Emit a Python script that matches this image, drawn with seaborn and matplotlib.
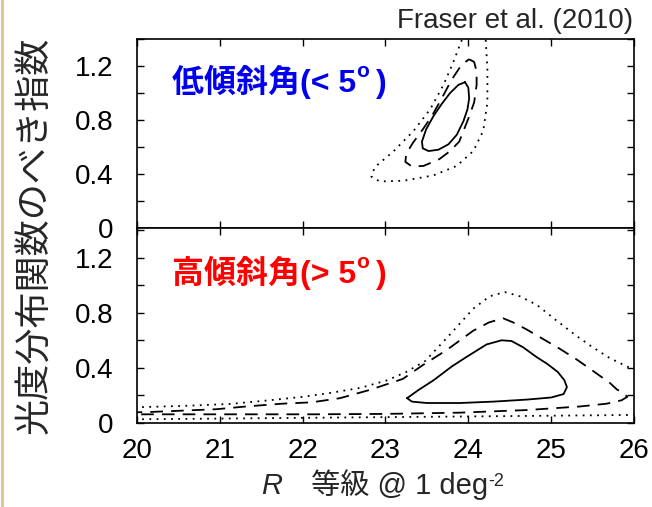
import numpy as np
import pandas as pd
import matplotlib
matplotlib.use("Agg")
import matplotlib.pyplot as plt
from matplotlib.ticker import MultipleLocator, FuncFormatter
import seaborn as sns

# ------------------------------
# Data (contours: R magnitude vs. power-law index)
# ------------------------------
LEVELS = ["1sigma", "2sigma", "3sigma"]

# low inclination (< 5 deg)
LOW_1S_R = [23.96, 24.00, 24.01, 23.99, 23.94, 23.86, 23.76, 23.64, 23.52, 23.45, 23.44, 23.49, 23.58, 23.68, 23.78, 23.88, 23.96]
LOW_1S_A = [1.08, 1.04, 0.96, 0.88, 0.79, 0.69, 0.62, 0.58, 0.57, 0.59, 0.64, 0.73, 0.83, 0.92, 1.00, 1.06, 1.08]
LOW_2S_R = [24.01, 24.07, 24.10, 24.10, 24.07, 24.00, 23.89, 23.78, 23.65, 23.46, 23.32, 23.24, 23.25, 23.33, 23.45, 23.56, 23.67, 23.80, 23.92, 24.01]
LOW_2S_A = [1.25, 1.23, 1.16, 1.06, 0.93, 0.81, 0.64, 0.57, 0.51, 0.46, 0.455, 0.49, 0.55, 0.63, 0.73, 0.83, 0.95, 1.10, 1.21, 1.25]
LOW_3S_R = [24.20, 24.21, 24.23, 24.23, 24.18, 24.06, 23.86, 23.58, 23.22, 22.93, 22.83, 22.87, 23.10, 23.34, 23.54, 23.70, 23.82, 23.90, 23.96, 24.08, 24.20]
LOW_3S_A = [1.50, 1.39, 1.18, 0.93, 0.72, 0.57, 0.46, 0.39, 0.35, 0.345, 0.38, 0.45, 0.57, 0.72, 0.88, 1.06, 1.23, 1.36, 1.45, 1.52, 1.50]

# high inclination (> 5 deg)
HIGH_1S_R = [23.26, 23.40, 23.58, 23.80, 23.98, 24.22, 24.40, 24.52, 24.66, 24.82, 24.95, 25.08, 25.16, 25.19, 25.15, 25.00, 24.71, 24.30, 23.90, 23.50, 23.32, 23.26]
HIGH_1S_A = [0.18, 0.24, 0.31, 0.41, 0.48, 0.57, 0.60, 0.595, 0.55, 0.48, 0.43, 0.37, 0.31, 0.26, 0.21, 0.185, 0.17, 0.155, 0.145, 0.145, 0.155, 0.18]
HIGH_2S_R = [19.8, 20.12, 21.36, 22.13, 23.0, 23.9, 24.71, 25.35, 25.67, 25.85, 25.92, 25.86, 25.79, 25.71, 25.5, 25.31, 25.1, 24.9, 24.7, 24.54, 24.42,
             24.25, 24.06, 23.9, 23.74, 23.45, 23.21, 22.81, 22.45, 22.11, 21.75, 21.32, 20.96, 20.56, 20.16, 19.8, 19.8]
HIGH_2S_A = [0.062, 0.063, 0.063, 0.063, 0.066, 0.075, 0.094, 0.12, 0.14, 0.165, 0.19, 0.22, 0.245, 0.29, 0.38, 0.46, 0.54, 0.61, 0.68, 0.73, 0.76,
             0.73, 0.67, 0.60, 0.53, 0.42, 0.32, 0.24, 0.18, 0.15, 0.14, 0.12, 0.10, 0.09, 0.08, 0.075, 0.062]
HIGH_3S_R = [19.8, 20.0, 20.6, 21.12, 21.6, 22.0, 22.3, 22.7, 23.02, 23.25, 23.48, 23.76, 24.06, 24.26, 24.44, 24.62, 24.83, 25.05, 25.31, 25.5,
             25.71, 25.95, 26.2, 26.3, 26.2, 25.9, 24.5, 22.7, 21.0, 20.0, 19.8, 19.8]
HIGH_3S_A = [0.11, 0.114, 0.125, 0.138, 0.165, 0.19, 0.215, 0.255, 0.31, 0.37, 0.45, 0.63, 0.83, 0.92, 0.95, 0.92, 0.856, 0.75, 0.63, 0.55,
             0.47, 0.40, 0.36, 0.2, 0.06, 0.058, 0.05, 0.041, 0.032, 0.027, 0.026, 0.11]

X_TICKS = [20, 21, 22, 23, 24, 25, 26]
LOW_YLIM = (0, 1.40)
HIGH_YLIM = (0, 1.415)

LOW_LABEL = "低傾斜角(< 5"
HIGH_LABEL = "高傾斜角(> 5"
CREDIT = "Fraser et al. (2010)"
Y_LABEL = "光度分布関数のべき指数"

# ------------------------------
# Style
# ------------------------------
sns.set_theme(style="ticks")
plt.rcParams["font.family"] = ["Liberation Sans", "Noto Sans CJK JP", "DejaVu Sans"]
plt.rcParams["axes.linewidth"] = 1.2
plt.rcParams["axes.edgecolor"] = "black"

DASHES = {"1sigma": "", "2sigma": (7, 4.5), "3sigma": (1, 3)}


def contour_frame(rings):
    rows = []
    for level, rr, aa in rings:
        for i, (r, a) in enumerate(zip(rr, aa)):
            rows.append({"R": r, "alpha": a, "level": level, "order": i})
    return pd.DataFrame(rows)


def style_axis(ax, ylim):
    ax.set_xlim(X_TICKS[0], X_TICKS[-1])
    ax.set_ylim(*ylim)
    ax.set_xticks(X_TICKS)
    ax.yaxis.set_major_locator(MultipleLocator(0.4))
    ax.yaxis.set_minor_locator(MultipleLocator(0.2))
    ax.yaxis.set_major_formatter(FuncFormatter(lambda v, p: "0" if abs(v) < 1e-9 else f"{v:.1f}"))
    ax.tick_params(which="both", direction="in", top=True, right=True,
                   length=5, width=1, colors="black", labelsize=20)
    ax.tick_params(axis="y", pad=17)
    ax.tick_params(axis="x", pad=11)
    ax.set_xlabel("")
    ax.set_ylabel("")
    for s in ax.spines.values():
        s.set_visible(True)


def panel_label(ax, main, color):
    t = ax.text(0.07, 0.72, main, transform=ax.transAxes, color=color,
                fontsize=23, fontweight="bold", va="baseline")
    sup = ax.annotate("o", xy=(1, 0), xycoords=t, xytext=(0.5, 13),
                      textcoords="offset points", color=color, fontsize=15,
                      fontweight="bold", va="bottom", ha="left")
    ax.annotate(")", xy=(1, 0), xycoords=(sup, t), xytext=(5, 0),
                textcoords="offset points", color=color, fontsize=23,
                fontweight="bold", va="bottom", ha="left")


fig = plt.figure(figsize=(6.52, 5.07), dpi=100)
ax_low = fig.add_axes([0.2101, 0.5503, 0.7623, 0.3728])
ax_high = fig.add_axes([0.2101, 0.1657, 0.7623, 0.3846])

low_df = contour_frame([("1sigma", LOW_1S_R, LOW_1S_A),
                        ("2sigma", LOW_2S_R, LOW_2S_A),
                        ("3sigma", LOW_3S_R, LOW_3S_A)])
high_df = contour_frame([("1sigma", HIGH_1S_R, HIGH_1S_A),
                         ("2sigma", HIGH_2S_R, HIGH_2S_A),
                         ("3sigma", HIGH_3S_R, HIGH_3S_A)])

for ax, df, ylim in [(ax_low, low_df, LOW_YLIM), (ax_high, high_df, HIGH_YLIM)]:
    sns.lineplot(data=df, x="R", y="alpha", style="level", style_order=LEVELS,
                 dashes=DASHES, sort=False, estimator=None, color="black",
                 lw=1.3, legend=False, ax=ax)
    style_axis(ax, ylim)

ax_low.tick_params(axis="x", labelbottom=False)

panel_label(ax_low, LOW_LABEL, "#0000ee")
panel_label(ax_high, HIGH_LABEL, "#ff0000")

# x label: italic R + text + superscript
r_txt = fig.text(0.400, 0.026, "R", fontsize=21, style="italic", va="baseline")
rest = ax_high.annotate("\u3000等級 @ 1 deg", xy=(1, 0), xycoords=r_txt,
                        xytext=(0, 0), textcoords="offset points",
                        fontsize=21, va="bottom", ha="left", annotation_clip=False)
ax_high.annotate("-2", xy=(1, 0), xycoords=rest, xytext=(0.5, 7),
                 textcoords="offset points", fontsize=13, va="bottom",
                 ha="left", annotation_clip=False)

fig.text(0.055, 0.5365, Y_LABEL, rotation=90, ha="center", va="center",
         fontsize=26, family=["Noto Sans CJK JP"])
fig.text(0.971, 0.945, CREDIT, ha="right", va="baseline", fontsize=20)

fig.add_artist(plt.Line2D([0.003, 0.003], [0, 1], transform=fig.transFigure,
                          color="#e2c48a", lw=2))

fig.savefig("out.png", dpi=100)
